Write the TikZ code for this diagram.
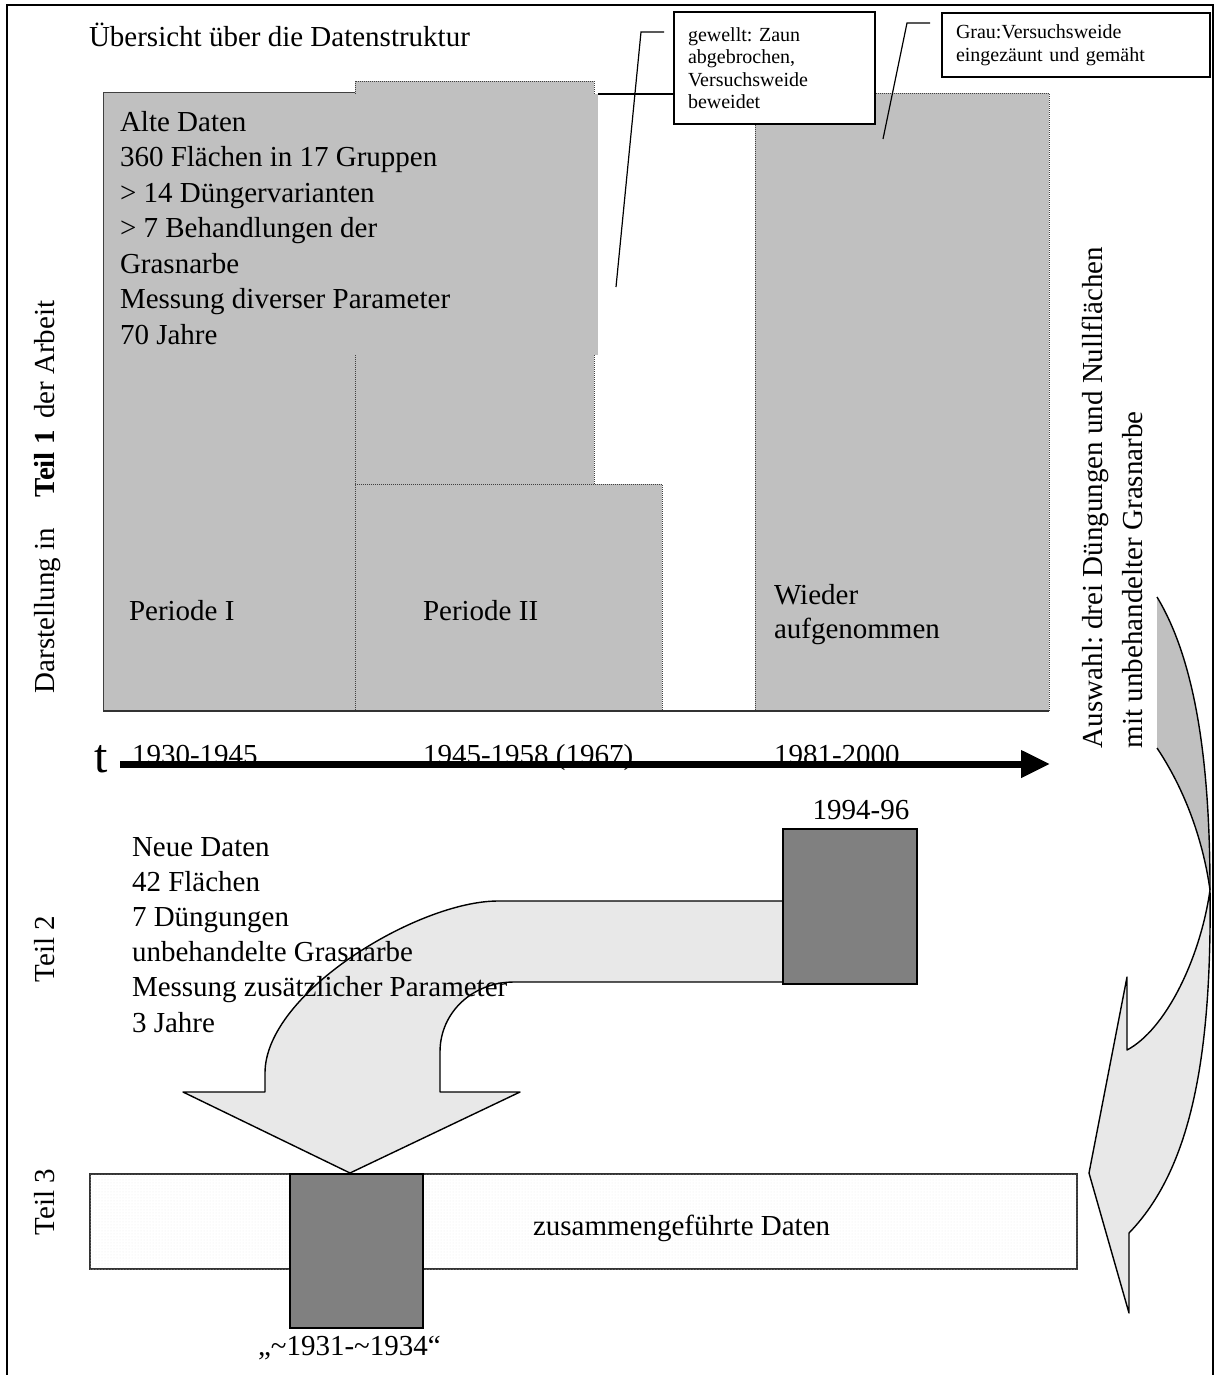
\documentclass[tikz,border=0pt]{standalone}
\usepackage{fontspec}
\setmainfont{Liberation Serif}
\usetikzlibrary{arrows.meta,patterns,calc}
\definecolor{silv}{HTML}{C0C0C0}
\definecolor{dgray}{HTML}{808080}
\definecolor{lgray}{HTML}{E8E8E8}
\definecolor{edgec}{HTML}{404040}
\frenchspacing
\begin{document}
\begin{tikzpicture}[x=1pt,y=-1pt,
  every node/.style={inner sep=0pt,outer sep=0pt},
  txt/.style={font=\fontsize{29}{35.5}\selectfont, align=left},
  note/.style={font=\fontsize{20}{22.5}\selectfont, align=left, draw=black, line width=1.3pt, fill=white, anchor=north west, inner xsep=14pt},
  area/.style={anchor=north west, fill=silv, draw=edgec, line width=0.9pt, dash pattern=on 1pt off 1pt},
  darkbox/.style={anchor=north west, fill=dgray, draw=black, line width=1.3pt},
  ln/.style={draw=black, line width=1.2pt},
  shapeln/.style={draw=black, line width=1.4pt, line join=round},
]
\useasboundingbox (0,0) rectangle (1218,1375);
% outer frame
\draw[line width=2pt] (7,1380) -- (7,5) -- (1213,5) -- (1213,1380);

% title
\node[txt, anchor=base west] (title) at (89,47) {Übersicht über die Datenstruktur};

% grey areas
\node[area, minimum width=252, minimum height=619, solid] (perI) at (103,92) {};
\node[area, minimum width=239, minimum height=630] (perIIup) at (355,81) {};
\node[area, minimum width=307, minimum height=227] (perII) at (355,484) {};
\node[area, minimum width=294, minimum height=618] (wieder) at (755,93) {};
\node[anchor=north west, fill=silv, minimum width=494, minimum height=261] (alte) at (104,94) {};
\draw[line width=1.5pt, black!80] (perI.south west) -- (wieder.south east);

\node[txt, anchor=base west] (altetxt) at (120,344) {Alte Daten\\360 Flächen in 17 Gruppen\\> 14 Düngervarianten\\> 7 Behandlungen der\\Grasnarbe\\Messung diverser Parameter\\70 Jahre};
\node[txt, anchor=base west] (p1) at (129,620) {Periode I};
\node[txt, anchor=base west] (p2) at (423,620) {Periode II};
\node[txt, anchor=base west, font=\fontsize{29}{34}\selectfont] (p3) at (774,638) {Wieder\\aufgenommen};

% callouts
\node[note, text width=173pt, minimum height=112pt] (c1) at (674,12) {gewellt: Zaun\\abgebrochen,\\Versuchsweide\\beweidet};
\node[note, text width=240pt, minimum height=64pt] (c2) at (942,13) {Grau:Versuchsweide\\eingezäunt und gemäht};
\coordinate (c1a) at (664,32);
\coordinate (c1b) at (641,32);
\coordinate (c1c) at (616,287);
\draw[ln] (c1a) -- (c1b) -- (c1c);
\draw[ln] (alte.north east) -- (alte.north east -| c1.west);
\coordinate (c2a) at (930,23);
\coordinate (c2b) at (907,23);
\coordinate (c2c) at (883,139);
\draw[ln] (c2a) -- (c2b) -- (c2c);

% time axis
\node[txt, anchor=base west] (y1) at (132,764) {1930-1945};
\node[txt, anchor=base west] (y2) at (423,764) {1945-1958 (1967)};
\node[txt, anchor=base west] (y3) at (774,764) {1981-2000};
\node[anchor=base west, font=\fontsize{48}{48}\selectfont] (tl) at (94,772) {t};
\coordinate (tstart) at (120,764);
\coordinate (tend) at (1050,764);
\draw[line width=7pt, -{Triangle[length=29pt,width=26pt]}] (tstart) -- (tend);

% left rotated labels
\node[txt, rotate=90, anchor=base west] (teil1) at (54,693) {Darstellung in\hspace{23pt} \textbf{Teil 1}\hspace{4pt} der Arbeit};
\node[txt, rotate=90, anchor=base west] (teil2) at (54,982) {Teil 2};
\node[txt, rotate=90, anchor=base west] (teil3) at (54,1235) {Teil 3};

% right curved arrow (twisted band)
\fill[silv] (1157,597) .. controls (1195,660) and (1210,760) .. (1210,890) .. controls (1203,840) and (1185,790) .. (1157,748) -- cycle;
\draw[shapeln] (1157,597) .. controls (1195,660) and (1210,760) .. (1210,890);
\draw[shapeln] (1157,748) .. controls (1185,790) and (1203,840) .. (1210,890);
\draw[shapeln, fill=lgray] (1210,890) .. controls (1212,1060) and (1190,1170) .. (1129,1233) -- (1129,1313) -- (1089,1173) -- (1127,977) -- (1127,1050) .. controls (1165,1030) and (1200,960) .. (1210,890) -- cycle;

\node[txt, rotate=90, anchor=base west, font=\fontsize{29}{40}\selectfont] (auswahl) at (1142,748) {Auswahl: drei Düngungen und Nullflächen\\mit unbehandelter Grasnarbe};

% Teil 3 bar
\node[anchor=north west, minimum width=987, minimum height=95, draw=black!80, line width=1.5pt, fill=white, postaction={pattern=dots, pattern color=black!7}] (bar) at (90,1174) {};
\node[darkbox, minimum width=133, minimum height=154] (old) at (290,1174) {};
\node[txt, anchor=base west] (merged) at (533,1235) {zusammengeführte Daten};
\node[txt, anchor=base west] (oldlbl) at (258,1355) {„\textasciitilde 1931-\textasciitilde 1934“};

% bent arrow from new data to bar
\draw[shapeln, fill=lgray] (790,901) -- (498,901) .. controls (418,901) and (265,993) .. (265,1073) -- (265,1092) -- (183,1092) -- (350,1173) -- (520,1092) -- (440,1092) -- (440,1052) .. controls (440,1012) and (473,982) .. (514,982) -- (790,982);
\node[darkbox, minimum width=134, minimum height=155] (new) at (783,829) {};
\node[txt, anchor=base] (l9496) at (861,819) {1994-96};

\node[txt, anchor=base west, font=\fontsize{29}{35.2}\selectfont] (neutxt) at (132,1032) {Neue Daten\\42 Flächen\\7 Düngungen\\unbehandelte Grasnarbe\\Messung zusätzlicher Parameter\\3 Jahre};
\end{tikzpicture}
\end{document}
